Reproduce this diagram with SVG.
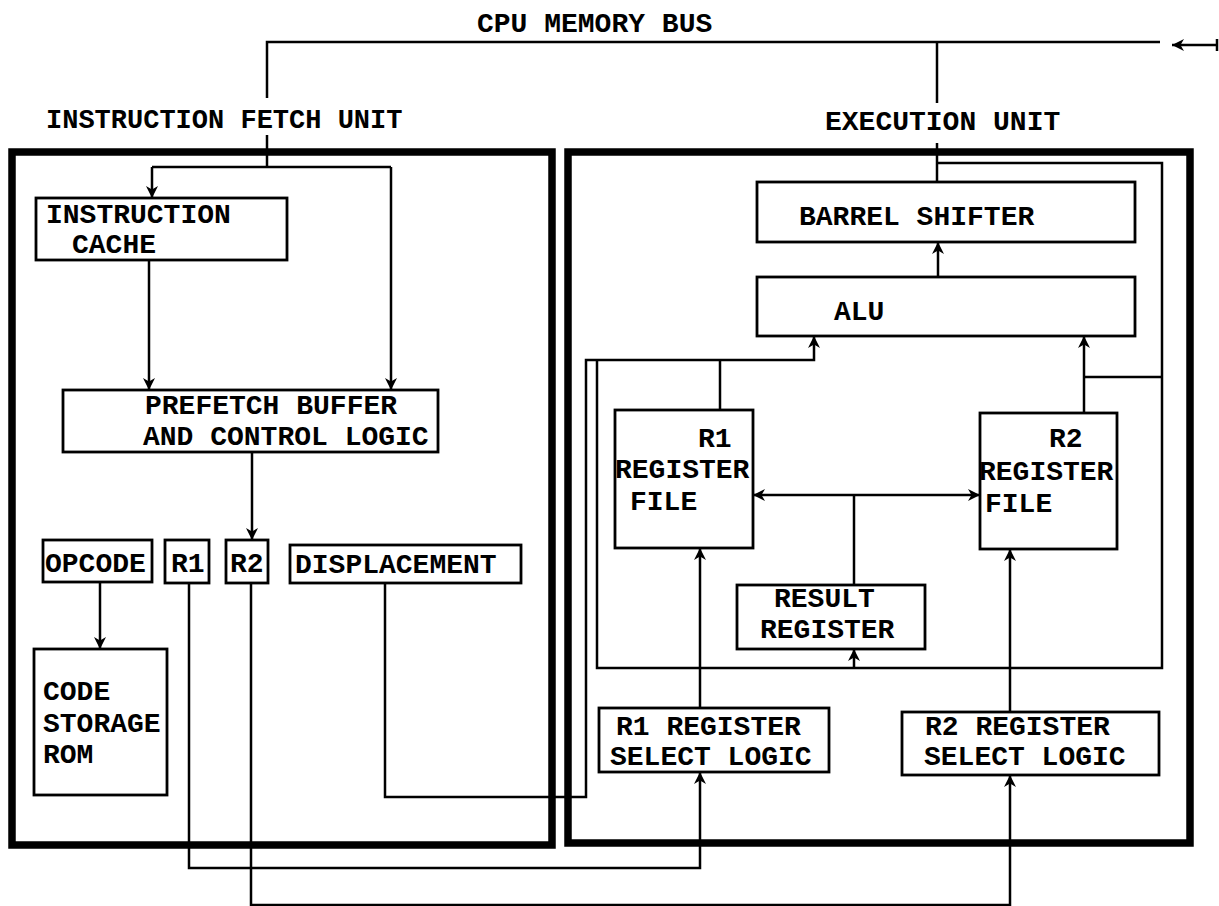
<svg xmlns="http://www.w3.org/2000/svg" width="1219" height="906" viewBox="0 0 1219 906">
<style>
text{font-family:"Liberation Mono","DejaVu Sans Mono",monospace;font-size:28px;font-weight:bold;fill:#000}
.lbl{font-size:27px}
.box{fill:none;stroke:#000;stroke-width:2.8}
.unit{fill:none;stroke:#000;stroke-width:7.5}
.ln{fill:none;stroke:#000;stroke-width:2.5}
.ar{marker-end:url(#ah)}
</style>
<defs>
<marker id="ah" markerUnits="userSpaceOnUse" markerWidth="14" markerHeight="14" refX="12" refY="7" orient="auto-start-reverse">
<path d="M0,1 L12,7 L0,13 L3.5,7 z" fill="#000"/>
</marker>
</defs>
<rect width="1219" height="906" fill="#fff"/>

<text x="477" y="32">CPU MEMORY BUS</text>

<g id="instruction-fetch-unit">
<rect class="unit" x="12" y="152" width="540" height="693"/>
<text class="lbl" x="46" y="128">INSTRUCTION FETCH UNIT</text>
</g>
<g id="execution-unit">
<rect class="unit" x="568" y="152" width="622" height="691"/>
<text x="825" y="130">EXECUTION UNIT</text>
</g>

<g id="instruction-cache">
<rect class="box" x="36" y="198" width="251" height="62"/>
<text x="46" y="223">INSTRUCTION</text>
<text x="72" y="253">CACHE</text>
</g>
<g id="prefetch-buffer">
<rect class="box" x="63" y="390" width="375" height="62"/>
<text x="145" y="414">PREFETCH BUFFER</text>
<text x="143" y="445">AND CONTROL LOGIC</text>
</g>
<g id="opcode">
<rect class="box" x="43" y="540" width="109" height="42"/>
<text x="45" y="572">OPCODE</text>
</g>
<g id="r1-field">
<rect class="box" x="165" y="540" width="44" height="43"/>
<text x="171" y="572">R1</text>
</g>
<g id="r2-field">
<rect class="box" x="226" y="540" width="42" height="43"/>
<text x="230" y="572">R2</text>
</g>
<g id="displacement">
<rect class="box" x="290" y="545" width="231" height="38"/>
<text x="295" y="573">DISPLACEMENT</text>
</g>
<g id="code-storage-rom">
<rect class="box" x="34" y="649" width="133" height="146"/>
<text x="43" y="700">CODE</text>
<text x="43" y="732">STORAGE</text>
<text x="43" y="763">ROM</text>
</g>

<g id="barrel-shifter">
<rect class="box" x="757" y="182" width="378" height="60"/>
<text x="799" y="225">BARREL SHIFTER</text>
</g>
<g id="alu">
<rect class="box" x="757" y="277" width="378" height="59"/>
<text x="834" y="320">ALU</text>
</g>
<g id="r1-register-file">
<rect class="box" x="615" y="410" width="138" height="138"/>
<text x="698" y="447">R1</text>
<text x="615" y="478">REGISTER</text>
<text x="630" y="510">FILE</text>
</g>
<g id="r2-register-file">
<rect class="box" x="980" y="413" width="137" height="136"/>
<text x="1049" y="447">R2</text>
<text x="979" y="480">REGISTER</text>
<text x="985" y="512">FILE</text>
</g>
<g id="result-register">
<rect class="box" x="737" y="585" width="188" height="64"/>
<text x="774" y="607">RESULT</text>
<text x="760" y="638">REGISTER</text>
</g>
<g id="r1-register-select-logic">
<rect class="box" x="599" y="708" width="230" height="64"/>
<text x="616" y="735">R1 REGISTER</text>
<text x="610" y="765">SELECT LOGIC</text>
</g>
<g id="r2-register-select-logic">
<rect class="box" x="902" y="712" width="257" height="63"/>
<text x="925" y="735">R2 REGISTER</text>
<text x="924" y="765">SELECT LOGIC</text>
</g>

<g id="connectors">
<path class="ln" d="M267,98 V42 H1160"/>
<path class="ln" d="M937,42 V103"/>
<path class="ln" d="M1217,39 V51"/>
<path class="ln" stroke-width="3.5" d="M1217,45 H1172" style="marker-end:url(#ah)"/>
<path class="ln" d="M267,135 V167"/>
<path class="ln" d="M152,167 H391"/>
<path class="ln ar" d="M152,167 V198"/>
<path class="ln ar" d="M391,167 V390"/>
<path class="ln ar" d="M149,260 V390"/>
<path class="ln ar" d="M252,452 V540"/>
<path class="ln ar" d="M100,582 V649"/>
<path class="ln" d="M937,143 V182"/>
<path class="ln" d="M937,163 H1162 V668 H597 V360"/>
<path class="ln ar" d="M385,583 V797 H586 V360 H814 V336"/>
<path class="ln" d="M720,360 V410"/>
<path class="ln ar" d="M1084,413 V336"/>
<path class="ln" d="M1084,377 H1162"/>
<path class="ln ar" d="M938,277 V242"/>
<path class="ln" stroke-width="3.2" d="M753,495 H980" style="marker-start:url(#ah);marker-end:url(#ah)"/>
<path class="ln" d="M854,495 V585"/>
<path class="ln ar" d="M854,668 V649"/>
<path class="ln ar" d="M700,708 V548"/>
<path class="ln ar" d="M1010,712 V549"/>
<path class="ln ar" d="M189,583 V868 H700 V772"/>
<path class="ln ar" d="M251,583 V905 H1010 V775"/>
</g>
</svg>
